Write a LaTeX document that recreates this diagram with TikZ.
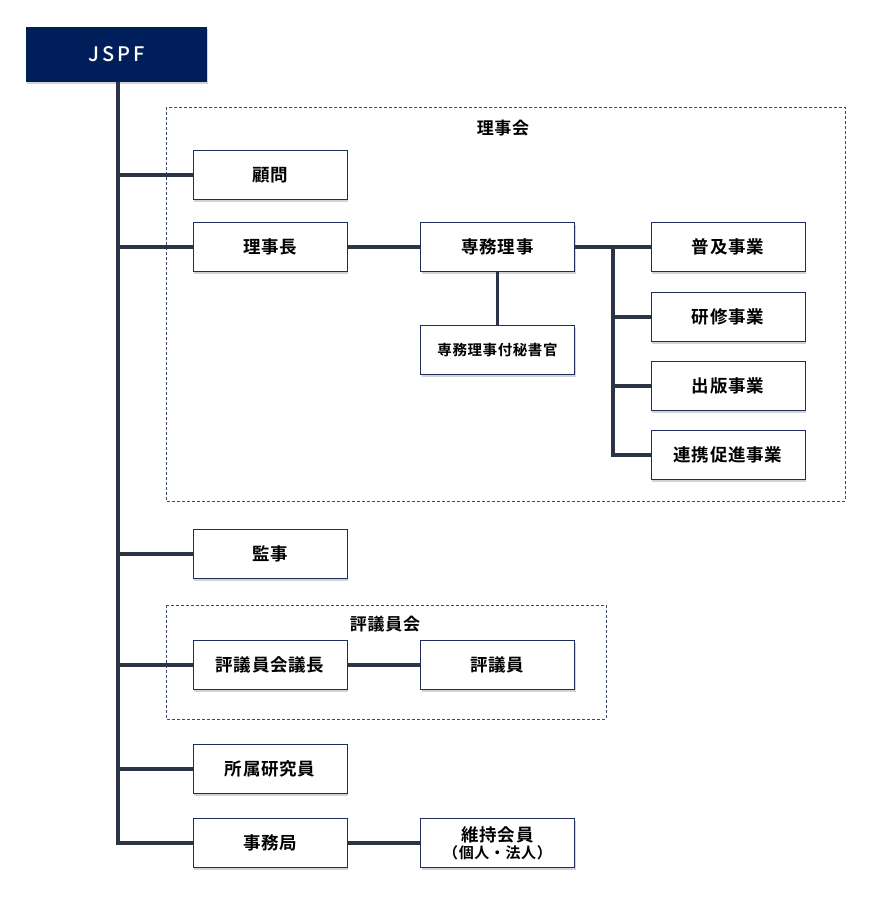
\documentclass[tikz,border=0pt]{standalone}
\usepackage{fontspec}
\setmainfont{Noto Sans CJK JP}
\newfontfamily\jpbold[LetterSpace=4]{Noto Sans CJK JP Bold}
\newfontfamily\logofont[LetterSpace=14]{Noto Sans CJK JP Medium}
\usetikzlibrary{shadows}
\definecolor{navy}{HTML}{001E5A}
\definecolor{boxline}{HTML}{1E2D5C}
\definecolor{wire}{HTML}{2B3445}
\definecolor{dashline}{HTML}{3A4A70}

\begin{document}
\begin{tikzpicture}[x=1pt, y=-1pt,
  unit/.style = {draw=boxline, line width=0.9pt, fill=white, minimum width=154pt, minimum height=49pt, inner sep=0pt,
    font=\fontsize{17.5}{19}\jpbold, drop shadow={opacity=0.35, shadow xshift=1pt, shadow yshift=-2pt}},
  small/.style = {unit, font=\fontsize{14.5}{16}\jpbold},
  link/.style = {draw=wire, line width=3.2pt},
  council/.style = {draw=dashline, line width=0.8pt, dash pattern=on 3pt off 2pt}]
\useasboundingbox (0,0) rectangle (876,902);

% councils
\draw[council] (166,107) rectangle (845,501);
\node[font=\fontsize{17}{19}\jpbold] (riji) at (503,128) {理事会};
\draw[council] (166,605) rectangle (606,719);
\node[font=\fontsize{17}{19}\jpbold] (hyogi) at (385,624) {評議員会};

% top
\node[fill=navy, minimum width=181pt, minimum height=55pt, inner sep=0pt, text=white,
  font=\fontsize{20}{22}\logofont, drop shadow={opacity=0.35, shadow xshift=1pt, shadow yshift=-2pt}] (jspf) at (116.5,54.5) {JSPF};

% boxes
\node[unit] (komon) at (270,175) {顧問};
\node[unit] (richo) at (270,247) {理事長};
\node[unit] (senmu) at (497.5,247) {専務理事};
\node[small] (hisho) at (497.5,350) {専務理事付秘書官};
\node[unit] (fukyu) at (728,247) {普及事業};
\node[unit] (kenshu) at (728,317) {研修事業};
\node[unit] (shuppan) at (728,386) {出版事業};
\node[unit] (renkei) at (728,455) {連携促進事業};
\node[unit] (kanji) at (270,554) {監事};
\node[unit] (gicho) at (270,665) {評議員会議長};
\node[unit] (giin) at (497.5,665) {評議員};
\node[unit] (kenkyu) at (270,769) {所属研究員};
\node[unit] (jimu) at (270,843) {事務局};
\node[unit, align=center, font=\fontsize{17.5}{18}\jpbold] (iji) at (497.5,843) {維持会員\\[-1pt]{\fontsize{15}{16}\selectfont （個人・法人）}};

% connectors
\coordinate (spine) at (118,0);
\draw[link] (jspf.south -| spine) -- (spine |- jimu.west) -- (jimu.west);
\foreach \n in {komon, richo, kanji, gicho, kenkyu}
  \draw[link] (spine |- \n.west) -- (\n.west);
\draw[link] (richo) -- (senmu);
\draw[link] (senmu) -- (hisho);
\draw[link] (jimu) -- (iji);
\draw[link] (gicho) -- (giin);
\coordinate (bus) at (613,0);
\draw[link] (senmu.east) -- (fukyu.west);
\draw[link] (bus |- fukyu.west) -- (bus |- renkei.west) -- (renkei.west);
\foreach \n in {kenshu, shuppan}
  \draw[link] (bus |- \n.west) -- (\n.west);
\end{tikzpicture}
\end{document}
